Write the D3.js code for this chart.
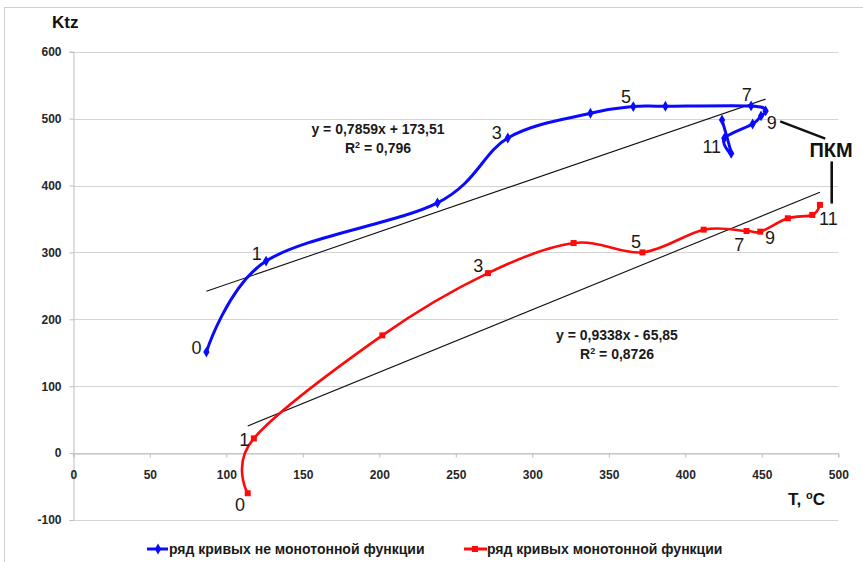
<!DOCTYPE html>
<html>
<head>
<meta charset="utf-8">
<script src="https://cdn.jsdelivr.net/npm/d3@7"></script>
<style>
  body { margin: 0; background: #fff; }
  svg text { font-family: "Liberation Sans", Arial, sans-serif; }
</style>
</head>
<body>
<div id="chart"></div>
<script>
// blue series: non-monotonic function
const blueT = [87, 126, 238, 284, 338, 366, 387, 443, 452.5, 449.5, 444, 425.5, 430, 424];
const blueK = [151, 287, 374, 471, 508, 518, 518.5, 519, 511.5, 504, 492, 470.6, 448, 498];
// red series: monotonic function
const redT = [114, 118, 202, 271, 327, 372, 412, 440, 449, 467, 483, 488];
const redK = [-60, 22, 176, 269, 314, 300, 334, 332, 331, 351, 356, 371];

const seriesNames = ["ряд кривых не монотонной функции", "ряд кривых монотонной функции"];
const blueTrend = { a: 0.7859, b: 173.51, eq: "y = 0,7859x + 173,51", r2: "0,796" };
const redTrend = { a: 0.9338, b: -65.85, eq: "y = 0,9338x - 65,85", r2: "0,8726" };

const xTicks = [0, 50, 100, 150, 200, 250, 300, 350, 400, 450, 500];
const yTicks = [-100, 0, 100, 200, 300, 400, 500, 600];

// point number labels [text, T, Ktz]
const blueLabels = [["0", 80.6, 156.9], ["1", 119.9, 297.7], ["3", 276.7, 478], ["5", 361.2, 532.7],
                    ["7", 440.1, 535.3], ["9", 456.5, 493.9], ["11", 417.3, 457.1]];
const redLabels = [["0", 109, -77.2], ["1", 111.8, 19.9], ["3", 264.7, 279.8], ["5", 367.8, 316.1],
                   ["7", 435.3, 311.1], ["9", 455.4, 321.2], ["11", 493.5, 349.6]];

const W = 863, H = 562;
const svg = d3.select("#chart").append("svg")
    .attr("width", W).attr("height", H);

// chart frame
svg.append("rect")
    .attr("x", 4.5).attr("y", 7.5)
    .attr("width", 900).attr("height", 600)
    .attr("fill", "#fff").attr("stroke", "#d0d0d0");

const x = d3.scaleLinear().domain([0, 500]).range([73.3, 838.3]);
const y = d3.scaleLinear().domain([-100, 600]).range([520, 51.7]);

// gridlines
svg.append("g").selectAll("line")
    .data(yTicks).enter().append("line")
    .attr("x1", x(0)).attr("x2", x(500))
    .attr("y1", d => Math.round(y(d)) + 0.5).attr("y2", d => Math.round(y(d)) + 0.5)
    .attr("stroke", "#d4d4d4").attr("stroke-width", 1.2);

// y axis
const yAxis = svg.append("g")
    .attr("transform", `translate(${Math.round(x(0)) + 0.5},0)`)
    .call(d3.axisLeft(y).tickValues(yTicks).tickSize(4).tickPadding(8).tickFormat(d => String(d)));
yAxis.select(".domain").attr("stroke", "#bdbdbd");
yAxis.selectAll(".tick line").attr("stroke", "#bdbdbd");
yAxis.selectAll("text")
    .style("font-size", "12px").style("font-weight", "bold").attr("fill", "#262626");

// x axis along zero
const xAxis = svg.append("g")
    .attr("transform", `translate(0,${Math.round(y(0)) + 0.5})`)
    .call(d3.axisBottom(x).tickValues(xTicks).tickSize(4).tickPadding(13).tickFormat(d => String(d)));
xAxis.select(".domain").attr("stroke", "#bdbdbd");
xAxis.selectAll(".tick line").attr("stroke", "#bdbdbd");
xAxis.selectAll("text")
    .style("font-size", "12px").style("font-weight", "bold").attr("fill", "#262626");

// axis titles
svg.append("text").attr("x", 52).attr("y", 28)
    .style("font-size", "17px").style("font-weight", "bold").attr("fill", "#111").text("Ktz");
const tt = svg.append("text").attr("x", 788).attr("y", 505)
    .style("font-size", "17px").style("font-weight", "bold").attr("fill", "#111");
tt.append("tspan").text("T, ");
tt.append("tspan").attr("dy", -6).style("font-size", "11px").text("o");
tt.append("tspan").attr("dy", 6).text("C");

// trend lines
function trend(t, tr) {
    const ext = d3.extent(t);
    svg.append("line")
        .attr("x1", x(ext[0])).attr("y1", y(tr.a * ext[0] + tr.b))
        .attr("x2", x(ext[1])).attr("y2", y(tr.a * ext[1] + tr.b))
        .attr("stroke", "#111").attr("stroke-width", 1.1);
}
trend(blueT, blueTrend);
trend(redT, redTrend);

const line = d3.line()
    .x(d => x(d[0])).y(d => y(d[1]))
    .curve(d3.curveCatmullRom.alpha(0));

const blueData = blueT.map((t, i) => [t, blueK[i]]);
const redData = redT.map((t, i) => [t, redK[i]]);

svg.append("path").attr("d", line(blueData))
    .attr("fill", "none").attr("stroke", "#0a0aff").attr("stroke-width", 3);
svg.append("path").attr("d", line(redData))
    .attr("fill", "none").attr("stroke", "#ff0a0a").attr("stroke-width", 2.6);

svg.selectAll(".bm").data(blueData).enter().append("path")
    .attr("class", "bm")
    .attr("d", d3.symbol(d3.symbolDiamond, 34))
    .attr("transform", d => `translate(${x(d[0])},${y(d[1])})`)
    .attr("fill", "#0a0aff");
svg.selectAll(".rm").data(redData).enter().append("rect")
    .attr("class", "rm")
    .attr("x", d => x(d[0]) - 3).attr("y", d => y(d[1]) - 3)
    .attr("width", 6).attr("height", 6)
    .attr("fill", "#ff0a0a");

// point labels
svg.selectAll(".pl").data(blueLabels.concat(redLabels)).enter().append("text")
    .attr("class", "pl")
    .attr("x", d => x(d[1])).attr("y", d => y(d[2]))
    .attr("text-anchor", "middle").attr("dominant-baseline", "central")
    .style("font-size", "18px").attr("fill", "#1a1a1a")
    .text(d => d[0]);

// equations
function eqLabel(cx, cy, tr) {
    const g = svg.append("g").style("font-size", "14px").style("font-weight", "bold").attr("fill", "#1a1a1a");
    g.append("text").attr("x", cx).attr("y", cy + 5).attr("text-anchor", "middle").text(tr.eq);
    const r = g.append("text").attr("x", cx).attr("y", cy + 24).attr("text-anchor", "middle");
    r.append("tspan").text("R");
    r.append("tspan").attr("dy", -5).style("font-size", "9px").text("2");
    r.append("tspan").attr("dy", 5).text(" = " + tr.r2);
}
eqLabel(378, 129, blueTrend);
eqLabel(617, 335, redTrend);

// ПКМ annotation
svg.append("line")
    .attr("x1", x(462)).attr("y1", y(496)).attr("x2", x(491.5)).attr("y2", y(470))
    .attr("stroke", "#111").attr("stroke-width", 2.4);
svg.append("line")
    .attr("x1", x(495.7)).attr("y1", y(436)).attr("x2", x(495.7)).attr("y2", y(373))
    .attr("stroke", "#111").attr("stroke-width", 2.6);
svg.append("text").attr("x", 831).attr("y", 157).attr("text-anchor", "middle")
    .style("font-size", "20px").style("font-weight", "bold").attr("fill", "#111").text("ПКМ");

// legend
const leg = svg.append("g").attr("transform", "translate(0,549)");
leg.append("line").attr("x1", 147).attr("x2", 168).attr("stroke", "#0a0aff").attr("stroke-width", 3);
leg.append("path").attr("d", d3.symbol(d3.symbolDiamond, 34)).attr("transform", "translate(158,0)").attr("fill", "#0a0aff");
leg.append("text").attr("x", 169).attr("y", 5)
    .style("font-size", "14px").style("font-weight", "bold").attr("fill", "#1a1a1a").text(seriesNames[0]);
leg.append("line").attr("x1", 464).attr("x2", 487).attr("stroke", "#ff0a0a").attr("stroke-width", 3);
leg.append("rect").attr("x", 472).attr("y", -3).attr("width", 6).attr("height", 6).attr("fill", "#ff0a0a");
leg.append("text").attr("x", 487).attr("y", 5)
    .style("font-size", "14px").style("font-weight", "bold").attr("fill", "#1a1a1a").text(seriesNames[1]);
</script>
</body>
</html>
